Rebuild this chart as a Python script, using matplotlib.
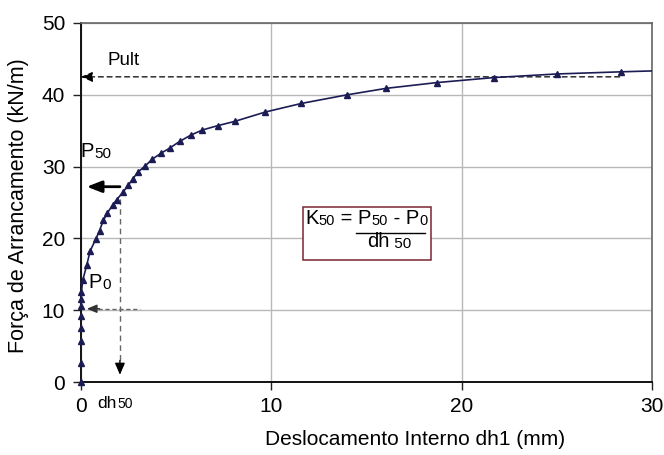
import matplotlib
matplotlib.use("Agg")
import matplotlib.pyplot as plt
from matplotlib.patches import Rectangle

plt.rcParams['font.family'] = ['Liberation Sans', 'DejaVu Sans']

# Pull-out test: internal displacement (mm) vs pull-out force (kN/m)
displacement = [0.0, 0.0, 0.0, 0.0, 0.0, 0.0, 0.0, 0.05, 0.12, 0.33, 0.5, 0.8,
                1.0, 1.2, 1.4, 1.7, 1.9, 2.25, 2.5, 2.75, 3.0, 3.4, 3.75, 4.25,
                4.7, 5.2, 5.8, 6.4, 7.2, 8.1, 9.7, 11.6, 14.0, 16.05, 18.7,
                21.7, 25.0, 28.35]
force = [0.0, 2.7, 5.7, 7.5, 9.2, 10.6, 11.5, 12.6, 14.2, 16.3, 18.2, 19.9,
         21.1, 22.5, 23.5, 24.7, 25.4, 26.5, 27.4, 28.3, 29.2, 30.1, 31.0, 31.9,
         32.6, 33.5, 34.4, 35.1, 35.7, 36.3, 37.6, 38.8, 40.0, 40.9, 41.7,
         42.4, 42.9, 43.2]
# curve continues past the right edge of the axes (no marker)
tail_x = [28.35, 31.0]
tail_y = [43.2, 43.4]

p_ult = 42.5
p_ult_end = 28.3
p50 = 27.2
dh50 = 2.07
p0 = 10.2

x_ticks = [0, 10, 20, 30]
y_ticks = [0, 10, 20, 30, 40, 50]

navy = '#1c1c55'

fig = plt.figure(figsize=(6.64, 4.55), dpi=100)
ax = fig.add_axes([80.5 / 664, 1 - 382 / 455, 571.5 / 664, 359 / 455])

ax.set_xlim(0, 30)
ax.set_ylim(0, 50)
ax.set_xticks(x_ticks)
ax.set_yticks(y_ticks)
ax.grid(True, color='#b8b8b8', linewidth=1.0)
ax.set_axisbelow(True)
ax.tick_params(labelsize=15, length=6, width=1.0, pad=5, color='#222222')

for side in ('left', 'bottom'):
    ax.spines[side].set_color('#111111')
    ax.spines[side].set_linewidth(1.4)
for side in ('top', 'right'):
    ax.spines[side].set_color('#666666')
    ax.spines[side].set_linewidth(1.2)

ax.plot(displacement, force, color=navy, linewidth=1.2, zorder=4)
ax.plot(tail_x, tail_y, color=navy, linewidth=1.2, zorder=4)
ax.plot(displacement, force, linestyle='none', marker='^', markersize=5,
        markerfacecolor=navy, markeredgecolor=navy, zorder=5, clip_on=False)

# Ultimate load reference line
ax.annotate('', xy=(0.02, p_ult), xytext=(p_ult_end, p_ult),
            arrowprops=dict(arrowstyle='-|>,head_length=0.7,head_width=0.3',
                            color='black', linestyle=(0, (4, 3)),
                            linewidth=0.9, shrinkA=0, shrinkB=0), zorder=3)
ax.text(1.43, 44.8, 'Pult', fontsize=13.5, va='center', ha='left')

# P50 arrow
ax.annotate('', xy=(0.33, p50), xytext=(dh50, p50),
            arrowprops=dict(arrowstyle='-|>,head_length=0.9,head_width=0.35',
                            color='black', linewidth=2.0,
                            shrinkA=0, shrinkB=0), zorder=5)

# dh50 vertical dashed arrow
ax.plot([dh50, dh50], [25.5, 2.2], color='#666666', linewidth=1.0,
        linestyle=(0, (4, 3)), zorder=3)
ax.annotate('', xy=(dh50, 1.0), xytext=(dh50, 3.0),
            arrowprops=dict(arrowstyle='-|>,head_length=0.7,head_width=0.3',
                            color='black', linewidth=1.0,
                            shrinkA=0, shrinkB=0), zorder=3)

# P0 dashed arrow
ax.plot([0.9, 3.1], [p0, p0], color='#666666', linewidth=1.0,
        linestyle=(0, (3, 2)), zorder=3)
ax.annotate('', xy=(0.33, p0), xytext=(1.0, p0),
            arrowprops=dict(arrowstyle='-|>,head_length=0.6,head_width=0.25',
                            color='#333333', linewidth=1.0,
                            shrinkA=0, shrinkB=0), zorder=3)


def sub_label(x, y, main, sub, size, sub_size, **kw):
    t = ax.text(x, y, main, fontsize=size, va='bottom', ha='left', **kw)
    s = ax.annotate(sub, xy=(1, 0), xycoords=t, fontsize=sub_size,
                    va='bottom', ha='left', annotation_clip=False, **kw)
    return t, s


sub_label(0.0, 30.8, 'P', '50', 14.5, 11)
sub_label(0.42, 12.5, 'P', '0', 14.5, 11)
sub_label(0.9, -4.1, 'dh', '50', 12.5, 10, clip_on=False)

# Formula box for K50
ax.add_patch(Rectangle((11.68, 17.0), 6.74, 7.33, facecolor='white',
                       edgecolor='#7a2430', linewidth=1.1, zorder=5))
parts = [('K', 14.5), ('50', 10.5), (' = P', 14.5), ('50', 10.5),
         (' - P', 14.5), ('0', 10.5)]
prev = ax.text(11.8, 21.5, parts[0][0], fontsize=parts[0][1],
               va='bottom', ha='left', zorder=6)
for txt, fs in parts[1:]:
    prev = ax.annotate(txt, xy=(1, 0), xycoords=prev, fontsize=fs,
                       va='bottom', ha='left', zorder=6)
ax.plot([14.48, 18.07], [20.71, 20.71], color='black', linewidth=1.0,
        zorder=6)
dh_t = ax.text(15.05, 18.2, 'dh', fontsize=14.5, va='bottom', ha='left',
               zorder=6)
ax.annotate(' 50', xy=(1, 0), xycoords=dh_t, fontsize=11, va='bottom',
            ha='left', zorder=6)

ax.set_xlabel('Deslocamento Interno dh1 (mm)', fontsize=15)
ax.xaxis.set_label_coords(0.585, -0.135)
ax.set_ylabel('Força de Arrancamento (kN/m)', fontsize=15.5)
ax.yaxis.set_label_coords(-0.09, 0.49)

fig.savefig('out.png', dpi=100, facecolor='white')
